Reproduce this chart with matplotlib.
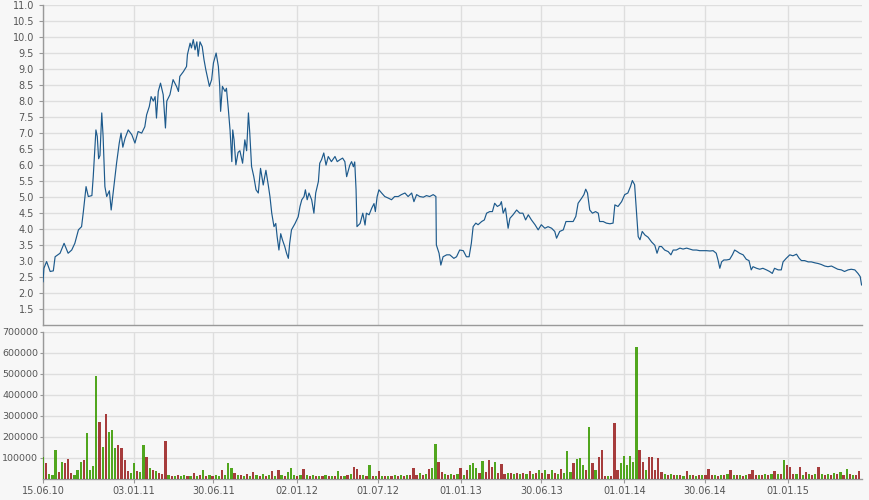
import matplotlib
matplotlib.use("Agg")
import matplotlib.pyplot as plt
import numpy as np
import pandas as pd

START = pd.Timestamp("2010-06-15")
END = pd.Timestamp("2015-06-15")

# Price series: days since 15.06.2010, closing price
price_days = [0, 2, 8, 16, 23, 27, 38, 47, 56, 64, 71, 79, 86, 90, 96, 101, 109, 112, 118, 121,
              124, 127, 131, 134, 138, 142, 148, 152, 158, 164, 170, 174, 178, 183, 190, 198, 205,
              212, 220, 227, 231, 237, 241, 246, 250, 253, 257, 262, 268, 273, 276, 283, 290, 298,
              302, 305, 313, 320, 322, 328, 331, 335, 339, 343, 346, 350, 355, 359, 363, 367, 371,
              376, 380, 386, 391, 394, 396, 400, 406, 409, 413, 417, 421, 423, 426, 430, 435,
              439, 445, 450, 454, 458, 461, 465, 470, 475, 480, 485, 491, 497, 502, 506, 510, 515,
              519, 522, 526, 530, 534, 539, 543, 547, 550, 554, 562, 569, 573, 577, 582, 585, 589,
              593, 599, 604, 608, 614, 617, 621, 626, 631, 636, 643, 651, 656, 662, 668, 673, 677,
              680, 684, 688, 692, 695, 698, 700, 707, 713, 718, 721, 727, 733, 738, 741, 745, 749,
              755, 762, 770, 777, 784, 792, 799, 807, 814, 822, 827, 833, 840, 848, 855, 862, 870,
              876, 877, 883, 887, 892, 900, 907,
              916, 922, 929, 937, 944, 950, 955, 959, 965, 970, 978, 984, 989, 996, 1002, 1007,
              1013, 1019, 1022, 1026, 1031, 1037, 1041, 1048, 1056, 1063, 1070, 1076, 1082, 1089,
              1097, 1104, 1111, 1119, 1126, 1134, 1141, 1145, 1152, 1160, 1166, 1173, 1182, 1188,
              1193, 1201, 1206, 1210, 1214, 1219, 1225, 1232, 1238, 1241, 1249, 1256, 1264, 1271,
              1275, 1282, 1290, 1297, 1304, 1310, 1314, 1319, 1323, 1327, 1331, 1336, 1342, 1349,
              1357, 1364, 1369, 1374, 1379, 1386, 1394, 1400, 1405, 1412, 1420, 1427, 1435, 1442,
              1449, 1457, 1464, 1472, 1479, 1487, 1494, 1501, 1505, 1509, 1513, 1518, 1524, 1531,
              1537, 1542, 1548, 1553, 1561, 1568, 1574, 1579, 1583, 1591, 1598, 1605, 1613, 1620,
              1626, 1631, 1639, 1646, 1650, 1657, 1665, 1672, 1680, 1686, 1691, 1698, 1706, 1713,
              1721, 1728, 1735, 1743, 1750, 1758, 1765, 1772, 1780, 1787, 1795, 1802, 1810, 1817,
              1822, 1825]
price_values = [2.36, 2.78, 2.99, 2.68, 2.70, 3.14, 3.25, 3.56, 3.25, 3.35, 3.56, 3.98, 4.08, 4.55,
                5.33, 5.02, 5.05, 5.64, 7.10, 6.90, 6.20, 6.30, 7.63, 6.90, 5.33, 5.02, 5.20, 4.60,
                5.33, 6.06, 6.69, 7.00, 6.56, 6.84, 7.10, 6.95, 6.69, 7.05, 7.00, 7.20, 7.57, 7.83,
                8.14, 8.00, 8.14, 7.47, 8.30, 8.56, 8.20, 7.16, 8.00, 8.20, 8.67, 8.45, 8.30, 8.77,
                8.92, 9.08, 9.45, 9.81, 9.66, 9.92, 9.60, 9.85, 9.40, 9.85, 9.70, 9.29, 8.98, 8.72,
                8.46, 8.67, 9.19, 9.50, 9.08, 8.46, 7.68, 8.46, 8.30, 8.40, 7.78, 7.10, 6.11, 7.10,
                6.79, 6.01, 6.40,
                6.45, 6.06, 6.79, 6.45, 7.63, 7.00, 5.96, 5.64, 5.23, 5.13, 5.90, 5.38, 5.84, 5.40,
                5.02, 4.50, 4.08, 4.18, 3.77, 3.35, 3.86, 3.66, 3.46, 3.25, 3.09, 3.56, 3.98, 4.18,
                4.39, 4.71, 4.92, 5.02, 5.23, 4.92, 5.13, 4.92, 4.50, 5.13, 5.49, 6.06, 6.17, 6.38,
                6.00, 6.27, 6.11, 6.27, 6.11, 6.17, 6.22, 6.11, 5.64, 5.80, 6.00, 6.11, 5.95, 6.10,
                5.23, 4.08, 4.18, 4.50, 4.13, 4.50, 4.45, 4.66, 4.80, 4.55, 5.02, 5.23, 5.13, 5.02,
                4.97, 4.92, 5.02, 5.02, 5.08, 5.13, 5.02, 5.13, 4.86, 5.08, 5.02, 5.00, 5.05, 5.02,
                5.08, 5.02, 3.51, 3.25, 2.88, 3.14, 3.20, 3.20,
                3.09, 3.14, 3.35, 3.33, 3.14, 3.14, 3.56, 4.08, 4.19, 4.14, 4.24, 4.29, 4.50, 4.55,
                4.55, 4.81, 4.71, 4.76, 4.86, 4.50, 4.66, 4.03, 4.34, 4.45, 4.60, 4.50, 4.50, 4.29,
                4.45, 4.29, 4.14, 3.98, 4.14, 4.03, 4.08, 4.03, 3.93, 3.72, 3.93, 3.98, 4.24, 4.24,
                4.24, 4.40, 4.81, 4.97, 5.08, 5.25, 5.13, 4.60, 4.50, 4.55, 4.50, 4.24, 4.24, 4.19,
                4.17, 4.19, 4.76, 4.71, 4.86, 5.08, 5.13, 5.34, 5.52, 5.39, 4.60, 3.77, 3.67, 3.93,
                3.82, 3.75,
                3.60, 3.50, 3.25, 3.46, 3.46, 3.35, 3.30, 3.20, 3.35, 3.35, 3.41, 3.38, 3.41, 3.38,
                3.35, 3.35, 3.33, 3.33, 3.33, 3.32, 3.33, 3.25, 3.04, 2.78, 2.98, 3.04, 3.04, 3.06,
                3.20, 3.35, 3.30, 3.25, 3.20, 3.06, 3.02, 2.73, 2.83, 2.78, 2.75, 2.78, 2.73, 2.68,
                2.62, 2.78, 2.73, 2.73, 2.98, 3.09, 3.20, 3.17, 3.22, 3.09, 3.02, 3.02, 2.98, 2.98,
                2.95, 2.93, 2.90, 2.85, 2.83, 2.85, 2.80, 2.75, 2.73, 2.68, 2.73, 2.75, 2.73, 2.62,
                2.52, 2.26]

# Weekly volume (thousands of shares) and direction (g = up, r = down), weeks from 15.06.2010
volume_k = [106, 78, 25, 20, 138, 35, 82, 74, 93, 30, 20, 45, 82, 90, 217, 45, 60, 490, 270, 154,
            307, 225, 233, 146, 162, 146, 90, 40, 30, 74, 40, 35, 162, 106, 50, 45, 40, 30, 25, 180,
            20, 15, 12, 18, 14, 20, 12, 15, 30, 14, 18, 43, 16, 19, 15, 19, 14, 43, 20, 75,
            51, 27, 18, 20, 15, 25, 14, 35, 18, 15, 22, 14, 20, 38, 16, 43, 18, 15, 35, 51,
            20, 16, 18, 48, 19, 15, 20, 14, 16, 14, 18, 12, 15, 14, 38, 15, 12, 18, 25, 59,
            46, 18, 19, 14, 67, 15, 12, 38, 15, 14, 16, 12, 18, 15, 19, 16, 19, 18, 51, 20,
            30, 18, 22, 46, 51, 166, 82, 35, 24, 20, 24, 18, 22, 51, 20, 43, 67, 78, 51, 30,
            86, 35, 90, 59, 81, 30, 71, 25, 30, 27, 22, 27, 25, 30, 22, 40, 25, 30, 43, 27,
            43, 25, 43, 30, 25, 46, 30, 135, 35, 75, 93, 98, 67, 43, 249, 75, 43, 106, 138, 12,
            14, 12, 265, 43, 78, 109, 67, 109, 82, 626, 138, 82, 43, 106, 106, 43, 101, 35, 22, 19,
            22, 18, 20, 19, 16, 40, 18, 20, 15, 19, 18, 20, 46, 18, 19, 16, 20, 18, 22, 43,
            19, 18, 20, 16, 19, 22, 43, 18, 20, 19, 22, 18, 25, 40, 22, 25, 90, 67, 55, 25,
            22, 55, 20, 35, 22, 19, 25, 59, 22, 20, 25, 19, 27, 22, 35, 20, 46, 22, 20, 18, 40]
volume_dir = ("grgggrgrrrgggrgggrgrggggrrgrggrgg"
              "rgrgrrggrgrggrgrgrgrgrggr"
              "grgrgrgrgrgrgrgrgrgrgrgrgrgrgrgrgrgrgrgrgrgrgrgrgrgrgrgrgrgrgrgr"
              "grgrgrgrgrgrgrgrgrgrgrgrgrgrgrgrgrgrgrgrgrgrgrgrgrgrgrgrgrgrgrgrgrgrgrgrgrgrgrgrgrgr"
              "grgrgrgrgrgrgrgrgrgrgrgrgrgrgrgrgrgrgrgrgrgrgrgrgrgrgrgrgrgrgrgrgrgrgrgrgr")
volume_dir_fixed = {17: "g", 18: "r", 19: "g", 20: "r", 21: "g", 22: "g", 25: "r", 26: "r", 39: "r",
                    57: "r", 59: "g", 75: "r", 79: "g", 83: "r", 94: "g", 99: "r", 100: "r", 104: "g",
                    118: "r", 125: "g", 126: "r", 136: "g", 137: "g", 140: "g", 142: "r", 144: "g",
                    146: "r", 167: "g", 170: "g", 171: "g", 174: "g", 177: "r", 178: "r", 182: "r",
                    185: "g", 187: "g", 189: "g", 190: "r", 193: "r", 194: "r", 196: "r", 212: "r",
                    226: "r", 236: "g", 237: "r", 238: "r", 241: "r", 247: "r", 260: "r"}

tick_dates = ["2010-06-15", "2011-01-03", "2011-06-30", "2012-01-02", "2012-07-01", "2013-01-01",
              "2013-06-30", "2014-01-01", "2014-06-30", "2015-01-01"]
tick_labels = ["15.06.10", "03.01.11", "30.06.11", "02.01.12", "01.07.12", "01.01.13",
               "30.06.13", "01.01.14", "30.06.14", "01.01.15"]

BG = "#f7f7f7"
GRID = "#dedede"
TXT = "#555555"
SPINE = "#999999"
LINE = "#1d5a8c"
GREEN = "#3a9b00"
RED = "#9b2222"

fig = plt.figure(figsize=(8.7, 5.0), dpi=100, facecolor=BG)
ax1 = fig.add_axes([43 / 870, 1 - 325.3 / 500, 819 / 870, 320.3 / 500], facecolor=BG)
ax2 = fig.add_axes([43 / 870, 1 - 479 / 500, 819 / 870, 147.3 / 500], facecolor=BG)

pdates = START + pd.to_timedelta(price_days, unit="D")
ax1.plot(pdates, price_values, color=LINE, lw=0.85, zorder=3)

vdates = pd.date_range(START, periods=len(volume_k), freq="7D")
vol = np.array(volume_k) * 1000
cols = []
for i in range(len(volume_k)):
    d = volume_dir_fixed.get(i, volume_dir[i] if i < len(volume_dir) else "g")
    cols.append(GREEN if d == "g" else RED)
ax2.bar(vdates, vol, width=5.0, color=cols, alpha=0.88, linewidth=0, zorder=3)

xt = pd.to_datetime(tick_dates)
for ax in (ax1, ax2):
    ax.set_xlim(START, END)
    ax.set_xticks(xt)
    ax.grid(True, color=GRID, lw=1.0, zorder=0)
    ax.set_axisbelow(True)
    for s in ("top", "right"):
        ax.spines[s].set_visible(False)
    for s in ("left", "bottom"):
        ax.spines[s].set_color(SPINE)
        ax.spines[s].set_linewidth(1.0)
    ax.tick_params(colors=SPINE, labelcolor=TXT, labelsize=7, length=3, width=0.8)

ax1.set_ylim(1.0, 11.0)
yt = np.arange(1.5, 11.01, 0.5)
ax1.set_yticks(yt)
ax1.set_yticklabels([f"{v:.1f}" for v in yt])
ax1.tick_params(axis="x", labelbottom=False, length=0)

ax2.set_ylim(0, 700000)
vt = np.arange(100000, 700001, 100000)
ax2.set_yticks(vt)
ax2.set_yticklabels([f"{int(v)}" for v in vt])
ax2.tick_params(axis="y", pad=1, length=2.5, labelsize=6.8)
ax2.set_xticklabels(tick_labels)
ax2.tick_params(axis="x", pad=2)

fig.savefig("out.png", dpi=100, facecolor=BG)
